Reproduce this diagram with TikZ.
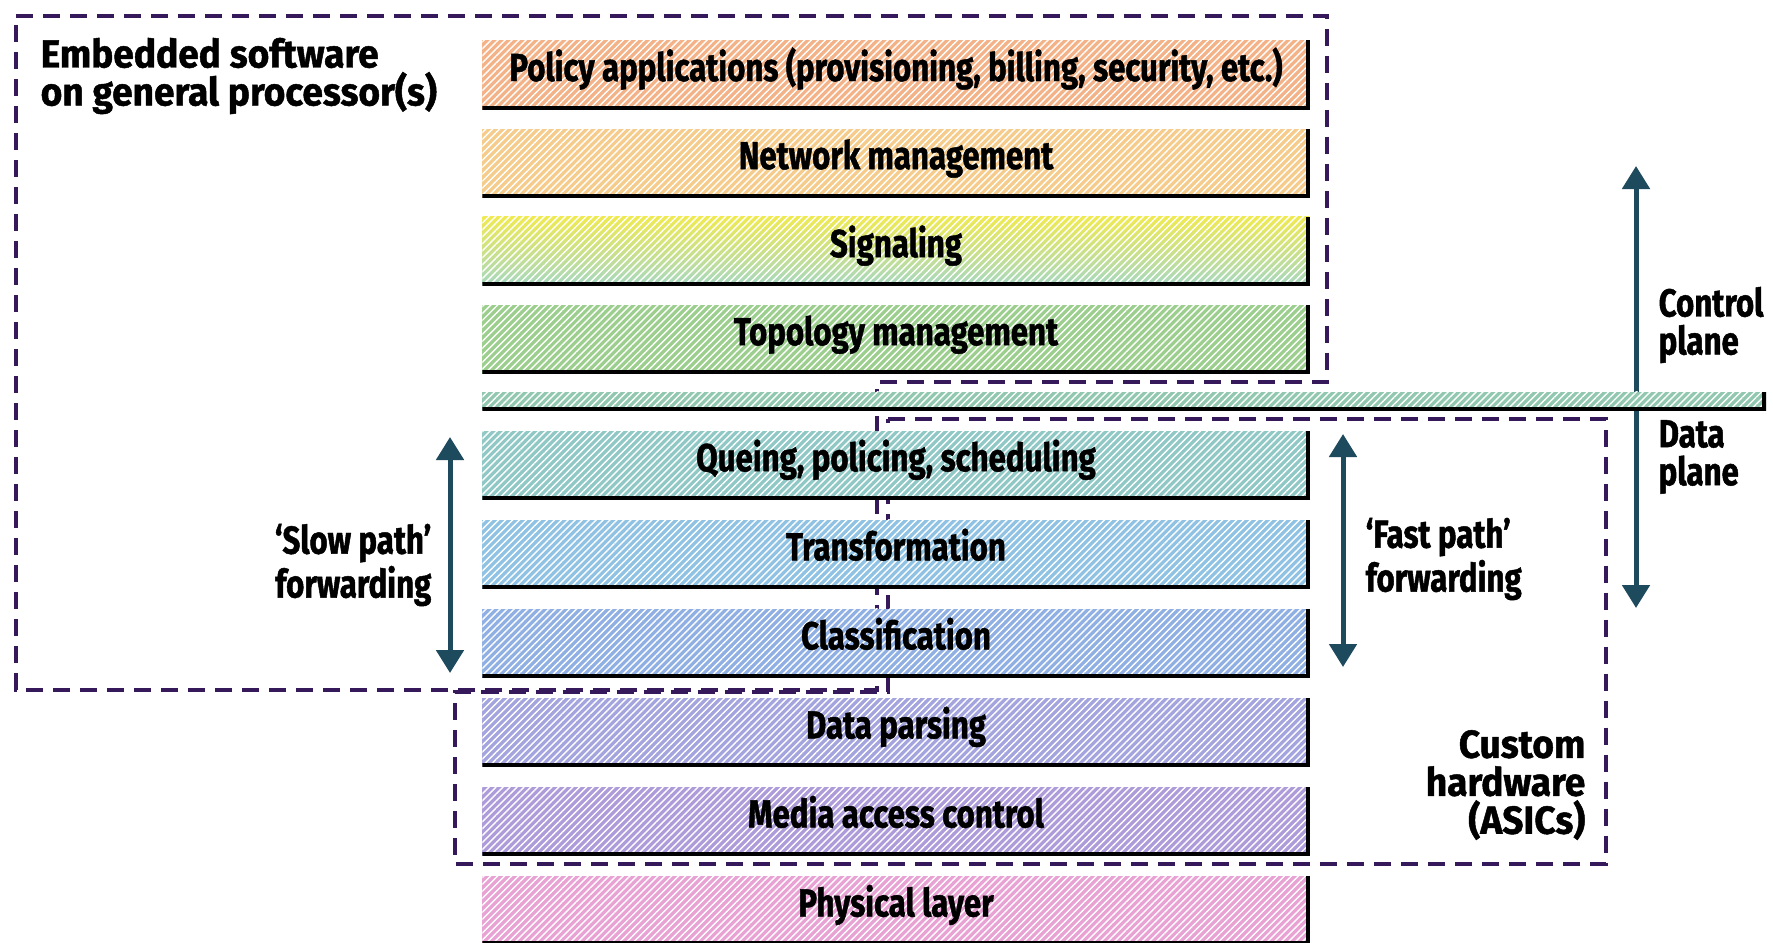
\documentclass[tikz,border=0pt]{standalone}
\usepackage{fontspec}
\newfontfamily\futfont{Fira Sans}[FakeStretch=0.8, FakeBold=1.2]
\newfontfamily\widefont{Fira Sans}[FakeStretch=0.95, FakeBold=1.2]
\usetikzlibrary{positioning,arrows.meta,backgrounds,patterns.meta}

\definecolor{groupcol}{HTML}{35195A}
\definecolor{arrowcol}{HTML}{1E4A5E}
\definecolor{polcol}{HTML}{F4B288}
\definecolor{netcol}{HTML}{F6CC8C}
\definecolor{sigtop}{HTML}{F0EA50}
\definecolor{sigbot}{HTML}{A6D8C0}
\definecolor{topcol}{HTML}{9CCE8E}
\definecolor{divcol}{HTML}{92C8B0}
\definecolor{quecol}{HTML}{90C8C6}
\definecolor{tracol}{HTML}{90C2E4}
\definecolor{clacol}{HTML}{90B0E4}
\definecolor{datcol}{HTML}{A4A4DE}
\definecolor{medcol}{HTML}{AE9CDA}
\definecolor{phycol}{HTML}{E8A2D4}

\begin{document}
\begin{tikzpicture}[
  x=0.01cm, y=-0.01cm,
  layer/.style={rectangle, fill=#1, inner sep=0pt, minimum width=8.27cm, minimum height=0.69cm,
    text height=0.28cm, text depth=0.16cm,
    font=\futfont\bfseries\fontsize{11.1pt}{10.8pt}\selectfont,
    path picture={
      \fill[pattern={Lines[angle=45,distance=1.4pt,line width=0.4pt]}, pattern color=white]
        (path picture bounding box.south west) rectangle (path picture bounding box.north east);
      \draw[line width=0.08cm] (path picture bounding box.north east) |- (path picture bounding box.south west);}},
  note/.style={inner sep=0pt, font=\futfont\bfseries\fontsize{11.1pt}{10.8pt}\selectfont},
  groupnote/.style={inner sep=0pt, font=\widefont\bfseries\fontsize{11.1pt}{10.8pt}\selectfont},
  group/.style={draw=groupcol, line width=0.04cm, dash pattern=on 0.17cm off 0.10cm},
  dirarrow/.style={{Triangle[width=0.27cm,length=0.23cm]}-{Triangle[width=0.27cm,length=0.23cm]},
    draw=arrowcol, line width=0.05cm},
  node distance=0.88cm
]
\useasboundingbox (0,0) rectangle (1773,942);

% layer stack
\node[layer=polcol] (policy) at (896,75) {Policy applications (provisioning, billing, security, etc.)};
\node[layer=netcol, below of=policy] (netmgmt) {Network management};
\node[layer=white, top color=sigtop, bottom color=sigbot, below of=netmgmt] (signal) {Signaling};
\node[layer=topcol, below of=signal] (topo) {Topology management};
\node[layer=divcol, minimum width=12.83cm, minimum height=0.19cm, text height=0pt, text depth=0pt,
  below=0.165cm of topo.south west, anchor=north west] (divider) {};
\node[layer=quecol, below of=topo, node distance=1.26cm] (queue) {Queing, policing, scheduling};
\node[layer=tracol, below of=queue, node distance=0.89cm] (trans) {Transformation};
\node[layer=clacol, below of=trans, node distance=0.89cm] (classif) {Classification};
\node[layer=datcol, below of=classif, node distance=0.89cm] (parse) {Data parsing};
\node[layer=medcol, below of=parse, node distance=0.89cm] (mac) {Media access control};
\node[layer=phycol, below of=mac, node distance=0.89cm] (phy) {Physical layer};

% labels
\node[groupnote, anchor=west, align=left] (embedded) at (40,76) {Embedded software\\on general processor(s)};
\node[note, anchor=east, align=right] (slow) at (432,565) {‘Slow path’\\forwarding};
\node[note, anchor=west, align=left] (fast) at (1365,559) {‘Fast path’\\forwarding};
\node[note, anchor=west, align=left] (control) at (1658,325) {Control\\plane};
\node[note, anchor=west, align=left] (data) at (1658,457) {Data\\plane};
\node[groupnote, anchor=east, align=right] (custom) at (1586,785) {Custom\\hardware\\(ASICs)};

\coordinate (slowtop) at (450,437);
\coordinate (slowbot) at (450,673);
\coordinate (fasttop) at (1343,434);
\coordinate (fastbot) at (1343,667);
\coordinate (planetop) at (1636,166);
\coordinate (planebot) at (1636,608);

\begin{pgfonlayer}{background}
\fill[white] (0,0) rectangle (1773,942);
% processor and ASIC regions
\draw[group] (16,16) -- (1327,16) -- (1327,382) -- (877,382) -- (877,690) -- (16,690) -- cycle;
\draw[group] (888,419) -- (1606,419) -- (1606,864) -- (455,864) -- (455,692) -- (888,692) -- cycle;
\draw[dirarrow] (planetop) -- (planebot);
\end{pgfonlayer}

\draw[dirarrow] (slowtop) -- (slowbot);
\draw[dirarrow] (fasttop) -- (fastbot);
\end{tikzpicture}
\end{document}
